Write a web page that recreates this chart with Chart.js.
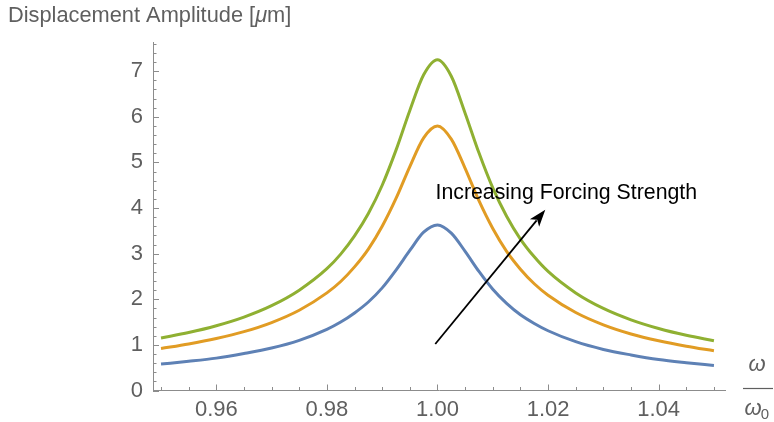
<!DOCTYPE html>
<html>
<head>
<meta charset="utf-8">
<script src="https://cdn.jsdelivr.net/npm/chart.js@4.4.0/dist/chart.umd.min.js"></script>
<style>
  body { margin: 0; background: #fff; }
  canvas { display: block; }
</style>
</head>
<body>
<canvas id="myChart" width="774" height="422"></canvas>
<script>
'use strict';

// omega / omega0
var freq = [0.95, 0.955, 0.96, 0.965, 0.97, 0.975, 0.98,
    0.9825, 0.985, 0.9875, 0.99, 0.9925, 0.995, 0.9975, 1.00,
    1.0025, 1.005, 1.0075, 1.01, 1.0125, 1.015, 1.0175,
    1.02, 1.025, 1.03, 1.035, 1.04, 1.045, 1.05];

// displacement amplitude, micrometres
var weakForcing = [0.58, 0.64, 0.71, 0.81, 0.93, 1.10, 1.34,
    1.50, 1.70, 1.94, 2.25, 2.64, 3.07, 3.47, 3.63,
    3.45, 3.05, 2.61, 2.22, 1.91, 1.66, 1.47,
    1.31, 1.07, 0.90, 0.78, 0.68, 0.61, 0.55];
var midForcing = [0.92, 1.02, 1.14, 1.29, 1.49, 1.76, 2.14,
    2.39, 2.71, 3.10, 3.60, 4.21, 4.91, 5.54, 5.80,
    5.51, 4.87, 4.16, 3.55, 3.05, 2.66, 2.34,
    2.09, 1.71, 1.44, 1.24, 1.09, 0.97, 0.87];
var strongForcing = [1.15, 1.27, 1.42, 1.61, 1.86, 2.20, 2.67,
    2.99, 3.39, 3.88, 4.50, 5.27, 6.14, 6.92, 7.25,
    6.89, 6.08, 5.21, 4.44, 3.82, 3.32, 2.93,
    2.61, 2.14, 1.80, 1.55, 1.36, 1.21, 1.09];

var xTickValues = [0.96, 0.98, 1.00, 1.02, 1.04];
var yTickValues = [0, 1, 2, 3, 4, 5, 6, 7];

var titleParts = ['Displacement Amplitude [', 'μ', 'm]'];
var noteText = 'Increasing Forcing Strength';
var notePos = [1.0233, 4.33];
var arrowFrom = [0.9996, 1.02];
var arrowTo = [1.0195, 3.96];

var grey = '#5f5f5f';
var axisGrey = '#8c8c8c';
var fontName = '"Liberation Sans", Arial, sans-serif';

function toPoints(values) {
    var pts = [];
    for (var i = 0; i < freq.length; i++) {
        pts.push({ x: freq[i], y: values[i] });
    }
    return pts;
}

function makeSet(values, color) {
    return {
        data: toPoints(values),
        borderColor: color,
        backgroundColor: color,
        borderWidth: 3,
        pointRadius: 0,
        cubicInterpolationMode: 'monotone',
        fill: false
    };
}

var extras = {
    id: 'extras',
    afterDraw: function (chart) {
        var ctx = chart.ctx;
        var xs = chart.scales.x;
        var ys = chart.scales.y;
        var area = chart.chartArea;
        ctx.save();

        // inside ticks like Mathematica
        ctx.strokeStyle = axisGrey;
        ctx.lineWidth = 1;
        ctx.beginPath();
        for (var i = 0; i <= 20; i++) {
            var px = Math.round(xs.getPixelForValue(0.95 + i * 0.005)) + 0.5;
            var len = (i % 4 === 2) ? 6 : 3.5;
            ctx.moveTo(px, area.bottom);
            ctx.lineTo(px, area.bottom - len);
        }
        for (var j = 0; j <= 38; j++) {
            var py = Math.round(ys.getPixelForValue(j * 0.2)) + 0.5;
            var ylen = (j % 5 === 0) ? 6 : 3.5;
            ctx.moveTo(area.left, py);
            ctx.lineTo(area.left + ylen, py);
        }
        ctx.stroke();

        // arrow
        var x0 = xs.getPixelForValue(arrowFrom[0]);
        var y0 = ys.getPixelForValue(arrowFrom[1]);
        var x1 = xs.getPixelForValue(arrowTo[0]);
        var y1 = ys.getPixelForValue(arrowTo[1]);
        var ang = Math.atan2(y1 - y0, x1 - x0);
        var headLen = 17;
        var headW = 6;
        ctx.strokeStyle = '#000';
        ctx.fillStyle = '#000';
        ctx.lineWidth = 1.8;
        ctx.beginPath();
        ctx.moveTo(x0, y0);
        ctx.lineTo(x1 - Math.cos(ang) * headLen * 0.8, y1 - Math.sin(ang) * headLen * 0.8);
        ctx.stroke();
        ctx.beginPath();
        ctx.moveTo(x1, y1);
        ctx.lineTo(x1 - Math.cos(ang) * headLen - Math.sin(ang) * headW,
            y1 - Math.sin(ang) * headLen + Math.cos(ang) * headW);
        ctx.lineTo(x1 - Math.cos(ang) * headLen * 0.75, y1 - Math.sin(ang) * headLen * 0.75);
        ctx.lineTo(x1 - Math.cos(ang) * headLen + Math.sin(ang) * headW,
            y1 - Math.sin(ang) * headLen - Math.cos(ang) * headW);
        ctx.closePath();
        ctx.fill();

        // note
        ctx.font = '21.3px ' + fontName;
        ctx.textAlign = 'center';
        ctx.textBaseline = 'middle';
        ctx.fillText(noteText, xs.getPixelForValue(notePos[0]), ys.getPixelForValue(notePos[1]));

        // axis title top left
        ctx.fillStyle = grey;
        ctx.textAlign = 'left';
        var tx = 8;
        ctx.font = '21.8px ' + fontName;
        ctx.fillText(titleParts[0], tx, 16);
        tx += ctx.measureText(titleParts[0]).width;
        ctx.font = 'italic 21.8px ' + fontName;
        ctx.fillText(titleParts[1], tx, 16);
        tx += ctx.measureText(titleParts[1]).width;
        ctx.font = '21.8px ' + fontName;
        ctx.fillText(titleParts[2], tx, 16);

        // omega / omega0 at the right
        ctx.font = 'italic 22px ' + fontName;
        ctx.textAlign = 'center';
        ctx.fillText('ω', 757, 365);
        ctx.strokeStyle = grey;
        ctx.lineWidth = 1.2;
        ctx.beginPath();
        ctx.moveTo(743, 388.5);
        ctx.lineTo(773, 388.5);
        ctx.stroke();
        ctx.fillText('ω', 753, 409);
        ctx.font = '15px ' + fontName;
        ctx.fillText('0', 765, 415);

        ctx.restore();
    }
};

var ctx = document.getElementById('myChart').getContext('2d');
var chart = new Chart(ctx, {
    type: 'line',
    data: {
        datasets: [
            makeSet(weakForcing, '#5e81b5'),
            makeSet(midForcing, '#e19c24'),
            makeSet(strongForcing, '#8fb032')
        ]
    },
    options: {
        responsive: false,
        animation: false,
        devicePixelRatio: 1,
        layout: { padding: { top: 42, right: 49, left: 0, bottom: 0 } },
        plugins: {
            legend: { display: false },
            tooltip: { enabled: false }
        },
        scales: {
            x: {
                type: 'linear',
                min: 0.94855,
                max: 1.052,
                grid: { display: false, drawTicks: false },
                border: { display: true, color: axisGrey, width: 1 },
                afterBuildTicks: function (scale) {
                    scale.ticks = xTickValues.map(function (v) { return { value: v }; });
                },
                afterFit: function (scale) { scale.height = 31.5; },
                ticks: {
                    autoSkip: false,
                    maxRotation: 0,
                    padding: 6,
                    color: grey,
                    font: { family: fontName, size: 22 },
                    callback: function (v) { return Number(v).toFixed(2); }
                }
            },
            y: {
                type: 'linear',
                min: 0,
                max: 7.64,
                grid: { display: false, drawTicks: false },
                border: { display: true, color: axisGrey, width: 1 },
                afterBuildTicks: function (scale) {
                    scale.ticks = yTickValues.map(function (v) { return { value: v }; });
                },
                afterFit: function (scale) { scale.width = 153; },
                ticks: {
                    autoSkip: false,
                    padding: 10,
                    color: grey,
                    font: { family: fontName, size: 22 },
                    callback: function (v) { return String(v); }
                }
            }
        }
    },
    plugins: [extras]
});
</script>
</body>
</html>
